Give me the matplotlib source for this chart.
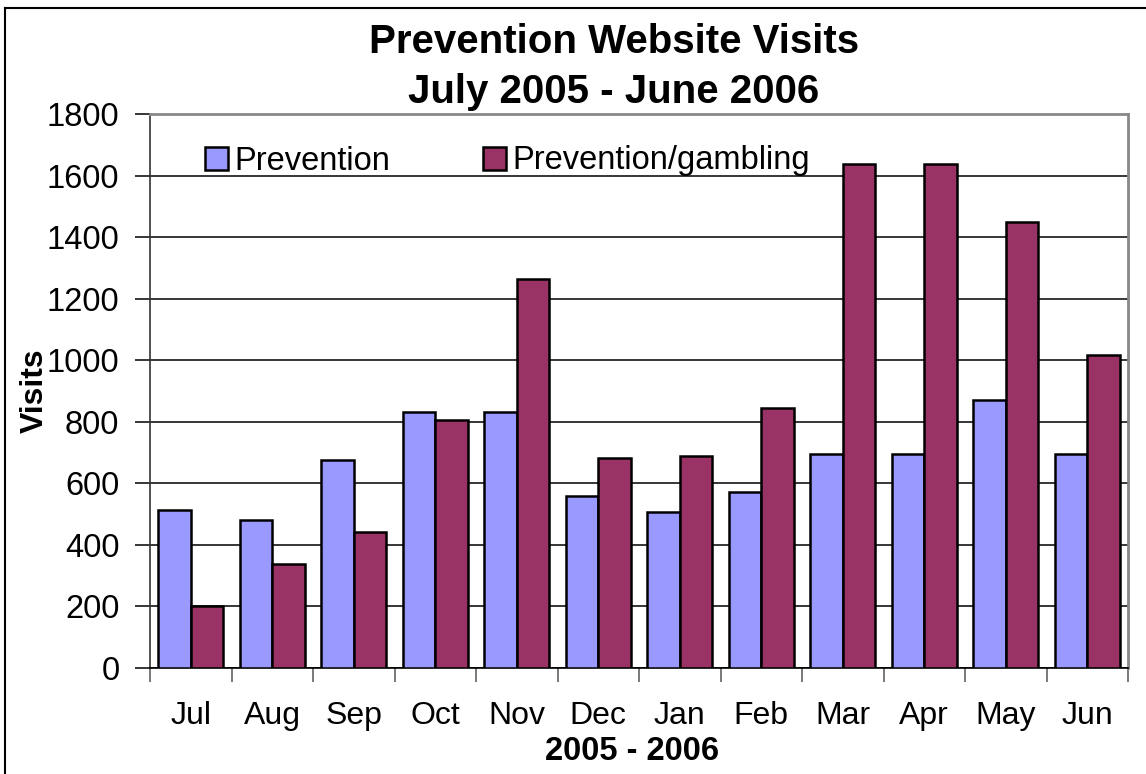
#!/usr/bin/env python3

import numpy as np
import matplotlib
matplotlib.use('Agg')
import matplotlib.pyplot as plt
from matplotlib.patches import Patch
from matplotlib.lines import Line2D

months = ['Jul', 'Aug', 'Sep', 'Oct', 'Nov', 'Dec', 'Jan', 'Feb', 'Mar', 'Apr', 'May', 'Jun']
prevention = [512, 480, 676, 832, 832, 558, 506, 571, 695, 695, 870, 695]
gambling = [200, 338, 441, 806, 1265, 682, 688, 844, 1639, 1639, 1450, 1018]

blue = '#9999FF'
plum = '#993366'


def main():
	plt.rcParams['font.family'] = ['Liberation Sans', 'DejaVu Sans']
	W, H = 1146, 774
	fig = plt.figure(figsize=(W / 100, H / 100), dpi=100)

	# axes box in pixels: left 150, right 1128, top 114, bottom 668
	ax = fig.add_axes([150 / W, (H - 668) / H, 978 / W, 554 / H])

	x = np.arange(len(months))
	w = 0.4
	ax.bar(x - w / 2, prevention, w, color=blue, edgecolor='black', linewidth=1.8, zorder=3)
	ax.bar(x + w / 2, gambling, w, color=plum, edgecolor='black', linewidth=1.8, zorder=3)

	ax.set_xlim(-0.5, len(months) - 0.5)
	ax.set_ylim(0, 1800)
	ax.set_yticks(range(0, 1801, 200))
	ax.yaxis.grid(True, color='black', linewidth=1.1, zorder=0)
	ax.set_axisbelow(True)

	# month labels between the boundary ticks
	ax.set_xticks(x)
	ax.set_xticklabels(months, fontsize=23)
	ax.tick_params(axis='x', length=0, pad=24)
	ax.set_xticks(np.arange(-0.5, len(months)), minor=True)
	ax.tick_params(axis='x', which='minor', length=10, width=1.1, color='#555555')
	ax.tick_params(axis='y', labelsize=23.5, length=11, width=1.1, direction='out', pad=11)

	for s in ['top', 'right']:
		ax.spines[s].set_color('#888888')
		ax.spines[s].set_linewidth(2)
	ax.spines['left'].set_color('#333333')
	ax.spines['bottom'].set_color('black')
	ax.spines['left'].set_linewidth(1.2)
	ax.spines['bottom'].set_linewidth(1.2)

	fig.text(35 / W, 1 - 391 / H, 'Visits', fontsize=23, fontweight='bold', rotation=90, ha='center', va='center')
	fig.text(632 / W, 1 - 752 / H, '2005 - 2006', fontsize=23.5, fontweight='bold', ha='center', va='center')

	fig.text(614 / W, 1 - 42 / H, 'Prevention Website Visits', fontsize=29, fontweight='bold', ha='center', va='center')
	fig.text(614 / W, 1 - 92 / H, 'July 2005 - June 2006', fontsize=29, fontweight='bold', ha='center', va='center')

	handles = [Patch(facecolor=blue, edgecolor='black', linewidth=1.8),
		Patch(facecolor=plum, edgecolor='black', linewidth=1.8)]
	ax.legend(handles, ['Prevention', 'Prevention/gambling'], ncol=2, frameon=False,
		fontsize=23.5, loc='center left', bbox_to_anchor=(192 / W, 1 - 161 / H),
		bbox_transform=fig.transFigure, handlelength=0.7, handleheight=0.7,
		handletextpad=0.2, columnspacing=2.85, borderaxespad=0)

	# chart area border, only left and top visible in the crop
	fig.add_artist(Line2D([5 / W, 5 / W], [0, 1 - 8 / H], color='black', linewidth=1.5, transform=fig.transFigure))
	fig.add_artist(Line2D([5 / W, 1], [1 - 8 / H, 1 - 8 / H], color='black', linewidth=1.5, transform=fig.transFigure))

	fig.savefig('out.png', dpi=100)


if __name__ == '__main__':
	main()
